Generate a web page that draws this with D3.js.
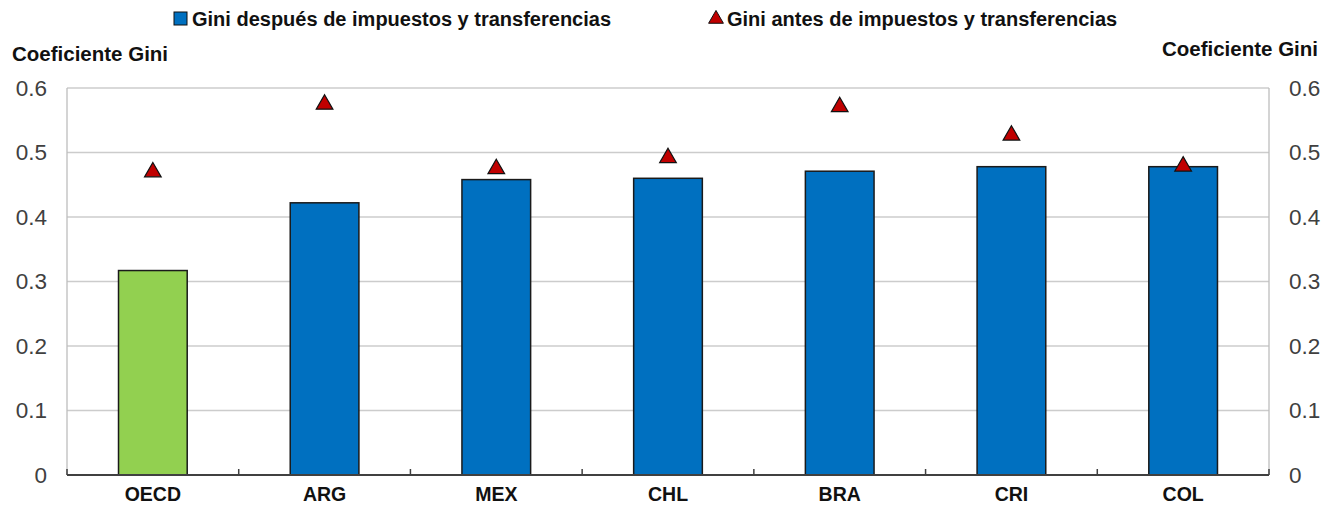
<!DOCTYPE html>
<html>
<head>
<meta charset="utf-8">
<title>Gini</title>
<script src="https://cdn.jsdelivr.net/npm/d3@7"></script>
<style>
  body { margin: 0; background: #fff; }
  text { font-family: "Liberation Sans Narrow", "Arial Narrow", "Liberation Sans", sans-serif; }
</style>
</head>
<body>
<div id="chart"></div>
<script>
  var countries = ["OECD", "ARG", "MEX", "CHL", "BRA", "CRI", "COL"];
  var giniAfter = [0.317, 0.422, 0.458, 0.460, 0.471, 0.478, 0.478];
  var giniBefore = [0.472, 0.577, 0.477, 0.494, 0.573, 0.529, 0.481];
  var yTicks = [0, 0.1, 0.2, 0.3, 0.4, 0.5, 0.6];
  var seriesNames = ["Gini después de impuestos y transferencias", "Gini antes de impuestos y transferencias"];
  var axisTitle = "Coeficiente Gini";

  var W = 1322, H = 506;
  var margin = {left: 67, right: 53, top: 88, bottom: 31};
  var wid = W - margin.left - margin.right;
  var high = H - margin.top - margin.bottom;

  var svg = d3.select("#chart").append("svg")
    .attr("width", W).attr("height", H);
  var g = svg.append("g")
    .attr("transform", translate(margin.left, margin.top));

  var ax = d3.scaleBand().domain(countries).range([0, wid]).padding(0);
  var ay = d3.scaleLinear().domain([0, 0.6]).range([high, 0]);

  // grid
  g.selectAll(".grid").data(yTicks.slice(1)).enter().append("line")
    .attr("x1", 0).attr("x2", wid)
    .attr("y1", function(d) { return ay(d); })
    .attr("y2", function(d) { return ay(d); })
    .attr("stroke", "#cccccc").attr("stroke-width", 1.5);
  g.append("line").attr("x1", 0).attr("x2", 0).attr("y1", 0).attr("y2", high)
    .attr("stroke", "#bdbdbd").attr("stroke-width", 1.3);
  g.append("line").attr("x1", wid).attr("x2", wid).attr("y1", 0).attr("y2", high)
    .attr("stroke", "#bdbdbd").attr("stroke-width", 1.3);

  // y labels
  var fmt = function(d) { return d === 0 ? "0" : d3.format(".1f")(d); };
  var yl = d3.axisLeft(ay).tickValues(yTicks).tickSize(0).tickPadding(20).tickFormat(fmt);
  var yr = d3.axisRight(ay).tickValues(yTicks).tickSize(0).tickPadding(20).tickFormat(fmt);
  [g.append("g").call(yl), g.append("g").attr("transform", translate(wid, 0)).call(yr)]
    .forEach(function(a) {
      a.select(".domain").remove();
      a.selectAll("text").attr("font-size", 22.5).attr("fill", "#404040")
        .style("font-family", "'Liberation Sans Narrow', 'Arial Narrow', sans-serif");
    });

  // bars
  var barW = ax.bandwidth() * 0.4;
  g.selectAll(".bar").data(countries).enter().append("rect")
    .attr("x", function(c) { return ax(c) + (ax.bandwidth() - barW) / 2; })
    .attr("y", function(c, i) { return ay(giniAfter[i]); })
    .attr("width", barW)
    .attr("height", function(c, i) { return high - ay(giniAfter[i]); })
    .attr("fill", function(c) { return c === "OECD" ? "#92D050" : "#0070C0"; })
    .attr("stroke", "#1a1a1a").attr("stroke-width", 1.5);

  // x axis
  var xa = d3.axisBottom(ax).tickSize(0).tickPadding(12);
  var xg = g.append("g").attr("transform", translate(0, high)).call(xa);
  xg.select(".domain").remove();
  xg.selectAll("text").attr("font-size", 19.5).attr("font-weight", "bold").attr("fill", "#111")
    .style("font-family", "'Liberation Sans Narrow', 'Arial Narrow', sans-serif");
  g.append("line").attr("x1", 0).attr("x2", wid).attr("y1", high).attr("y2", high)
    .attr("stroke", "#404040").attr("stroke-width", 2);
  var bounds = countries.map(function(c) { return ax(c); }).concat([wid]);
  g.selectAll(".tk").data(bounds).enter().append("line")
    .attr("x1", function(d) { return d; }).attr("x2", function(d) { return d; })
    .attr("y1", high).attr("y2", high - 6)
    .attr("stroke", "#404040").attr("stroke-width", 1.5);

  // triangles
  var tri = d3.symbol().type(d3.symbolTriangle).size(120);
  g.selectAll(".tri").data(countries).enter().append("path")
    .attr("d", tri)
    .attr("transform", function(c, i) {
      return translate(ax(c) + ax.bandwidth() / 2, ay(giniBefore[i]) + 1.5);
    })
    .attr("fill", "#C00000").attr("stroke", "#111").attr("stroke-width", 1.2);

  // axis titles
  svg.append("text").text(axisTitle).attr("x", 12).attr("y", 61)
    .attr("font-size", 20.5).attr("font-weight", "bold").attr("fill", "#111");
  svg.append("text").text(axisTitle).attr("x", 1318).attr("y", 56)
    .attr("text-anchor", "end")
    .attr("font-size", 20.5).attr("font-weight", "bold").attr("fill", "#111");

  // legend
  var lg = svg.append("g");
  lg.append("rect").attr("x", 174).attr("y", 12).attr("width", 13).attr("height", 13)
    .attr("fill", "#0070C0").attr("stroke", "#111").attr("stroke-width", 1);
  lg.append("text").text(seriesNames[0]).attr("x", 192).attr("y", 26)
    .attr("font-size", 20).attr("font-weight", "bold").attr("fill", "#111");
  lg.append("path").attr("d", d3.symbol().type(d3.symbolTriangle).size(95))
    .attr("transform", translate(716, 19))
    .attr("fill", "#C00000").attr("stroke", "#111").attr("stroke-width", 1);
  lg.append("text").text(seriesNames[1]).attr("x", 727).attr("y", 26)
    .attr("font-size", 20).attr("font-weight", "bold").attr("fill", "#111");

  function translate(x, y) {
    return "translate(" + x + "," + y + ")";
  }
</script>
</body>
</html>
